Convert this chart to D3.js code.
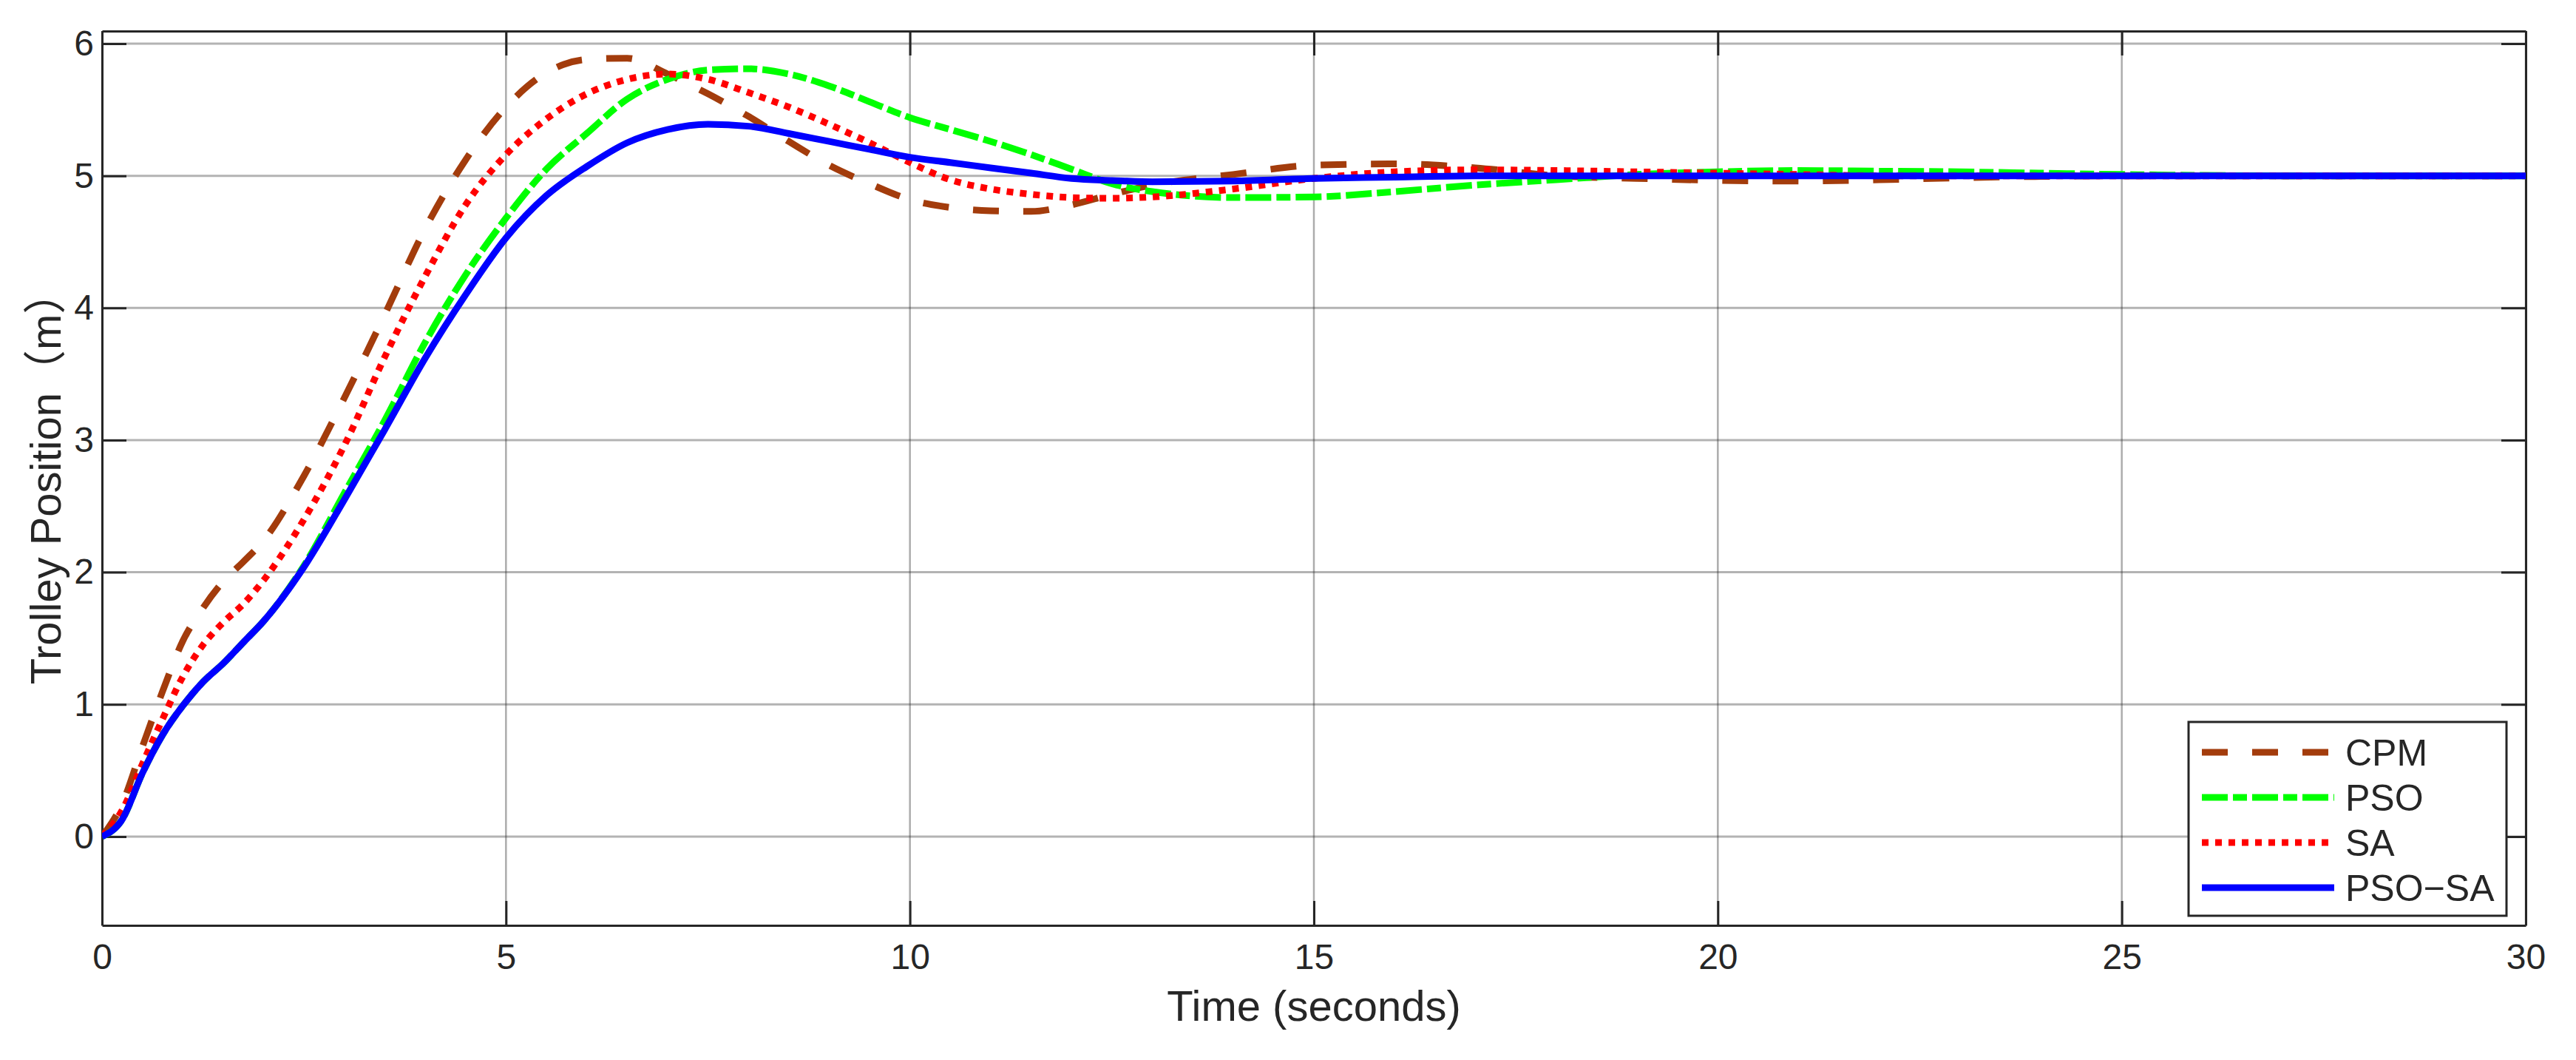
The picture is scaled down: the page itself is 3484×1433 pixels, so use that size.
<!DOCTYPE html>
<html>
<head>
<meta charset="utf-8">
<script src="https://cdn.jsdelivr.net/npm/d3@7"></script>
<style>
  body { margin: 0; background: #fff; }
  text { font-family: "Liberation Sans", Arial, "Noto Sans CJK SC", sans-serif; fill: #262626; }
</style>
</head>
<body>
<svg width="3484" height="1433"></svg>
<script>
// time samples (seconds)
let times = [0, 0.25, 0.5, 0.75, 1, 1.25, 1.5, 1.75, 2, 2.5, 3, 3.5, 4, 4.5, 5, 5.5, 6, 6.5, 7, 7.5,
    8, 8.5, 9, 9.5, 10, 10.5, 11, 11.5, 12, 12.5, 13, 14, 15, 16, 17, 18, 19, 20, 21, 22, 23, 24, 25, 27, 30];

let cpm = [0, 0.25, 0.68, 1.1, 1.48, 1.73, 1.93, 2.08, 2.24, 2.73, 3.32, 3.95, 4.6, 5.12, 5.52, 5.78, 5.88, 5.89, 5.77, 5.62,
    5.45, 5.26, 5.08, 4.94, 4.82, 4.76, 4.735, 4.73, 4.78, 4.86, 4.93, 5.01, 5.08, 5.09, 5.06, 5.0, 4.98, 4.965, 4.96, 4.97, 4.985, 4.995, 5.0, 5.0, 5.0];

let pso = [0, 0.13, 0.48, 0.77, 0.99, 1.17, 1.31, 1.47, 1.63, 2.05, 2.6, 3.15, 3.74, 4.25, 4.68, 5.05, 5.32, 5.58, 5.73, 5.8,
    5.81, 5.77, 5.68, 5.56, 5.44, 5.35, 5.26, 5.16, 5.05, 4.94, 4.88, 4.835, 4.84, 4.88, 4.93, 4.97, 5.01, 5.03, 5.04, 5.035, 5.03, 5.02, 5.01, 5.0, 5.0];

let sa = [0, 0.2, 0.55, 0.89, 1.21, 1.45, 1.62, 1.76, 1.94, 2.4, 2.96, 3.63, 4.24, 4.78, 5.16, 5.43, 5.62, 5.73, 5.77, 5.73,
    5.63, 5.52, 5.39, 5.25, 5.1, 4.97, 4.9, 4.86, 4.835, 4.83, 4.84, 4.9, 4.98, 5.03, 5.045, 5.04, 5.03, 5.02, 5.01, 5.0, 5.0, 5.0, 5.0, 5.0, 5.0];

let psoSa = [0, 0.13, 0.48, 0.77, 0.99, 1.17, 1.31, 1.47, 1.63, 2.04, 2.55, 3.08, 3.62, 4.1, 4.53, 4.85, 5.07, 5.25, 5.35, 5.39,
    5.375, 5.32, 5.26, 5.2, 5.14, 5.1, 5.06, 5.02, 4.98, 4.965, 4.955, 4.96, 4.98, 4.99, 5.0, 5.0, 5.0, 5.0, 5.0, 5.0, 5.0, 5.0, 5.0, 5.0, 5.0];

let seriesNames = ["CPM", "PSO", "SA", "PSO\u2212SA"];
let xTicks = [0, 5, 10, 15, 20, 25, 30];
let yTicks = [0, 1, 2, 3, 4, 5, 6];

let styles = [
    { color: "#a33c0c", dash: "35,33" },
    { color: "#00ff00", dash: "35,7,19,7" },
    { color: "#ff0000", dash: "9,9" },
    { color: "#0000ff", dash: null }
];

let svg = d3.select("svg"),
    margin = { top: 42, right: 68, bottom: 182, left: 138 },
    width = 3484 - margin.left - margin.right,
    height = 1433 - margin.top - margin.bottom,
    tickLen = 33;

let x = d3.scaleLinear().domain([0, 30]).range([0, width]);
let y = d3.scaleLinear().domain([-0.672, 6.095]).range([height, 0]);

let g = svg.append("g")
    .attr("transform", "translate(" + [margin.left, margin.top] + ")");

svg.append("defs").append("clipPath")
    .attr("id", "clip")
    .append("rect")
    .attr("width", width)
    .attr("height", height);

// grid
g.append("g").selectAll("line")
    .data(xTicks)
    .enter().append("line")
    .attr("x1", d => x(d)).attr("x2", d => x(d))
    .attr("y1", 0).attr("y2", height)
    .attr("stroke", "#262626").attr("stroke-opacity", 0.38).attr("stroke-width", 2.5);

g.append("g").selectAll("line")
    .data(yTicks)
    .enter().append("line")
    .attr("x1", 0).attr("x2", width)
    .attr("y1", d => y(d)).attr("y2", d => y(d))
    .attr("stroke", "#262626").attr("stroke-opacity", 0.35).attr("stroke-width", 3);

// axes (box with inward ticks on all sides)
let fmt = d3.format("d");
let axisBottom = d3.axisBottom(x).tickValues(xTicks).tickFormat(fmt).tickSizeInner(-tickLen).tickSizeOuter(0).tickPadding(25);
let axisTop = d3.axisTop(x).tickValues(xTicks).tickSizeInner(-tickLen).tickSizeOuter(0).tickFormat("");
let axisLeft = d3.axisLeft(y).tickValues(yTicks).tickFormat(fmt).tickSizeInner(-tickLen).tickSizeOuter(0).tickPadding(11);
let axisRight = d3.axisRight(y).tickValues(yTicks).tickSizeInner(-tickLen).tickSizeOuter(0).tickFormat("");

function styleAxis(sel) {
    sel.selectAll("path").attr("stroke", "#262626").attr("stroke-width", 3);
    sel.selectAll("line").attr("stroke", "#262626").attr("stroke-width", 3);
    sel.selectAll("text")
        .style("font-size", "48px")
        .style("font-family", "'Liberation Sans', Arial, sans-serif")
        .attr("fill", "#262626");
}

g.append("g").attr("transform", "translate(0," + height + ")").call(axisBottom).call(styleAxis);
g.append("g").call(axisTop).call(styleAxis);
g.append("g").call(axisLeft).call(styleAxis);
g.append("g").attr("transform", "translate(" + width + ",0)").call(axisRight).call(styleAxis);

// lines
let allSeries = [cpm, pso, sa, psoSa];
let line = d3.line()
    .x(d => x(d[0]))
    .y(d => y(d[1]))
    .curve(d3.curveMonotoneX);

allSeries.forEach((vals, i) => {
    let pts = times.map((t, k) => [t, vals[k]]);
    g.append("path")
        .datum(pts)
        .attr("clip-path", "url(#clip)")
        .attr("fill", "none")
        .attr("stroke", styles[i].color)
        .attr("stroke-width", 9)
        .attr("stroke-dasharray", styles[i].dash)
        .attr("d", line);
});

// axis labels
g.append("text")
    .attr("x", width / 2)
    .attr("y", 1380 - margin.top)
    .attr("text-anchor", "middle")
    .style("font-size", "58px")
    .attr("fill", "#000")
    .text("Time (seconds)");

svg.append("text")
    .attr("transform", "translate(82,646) rotate(-90)")
    .attr("text-anchor", "middle")
    .style("font-size", "58px")
    .attr("fill", "#000")
    .text("Trolley Position\uFF08m\uFF09");

// legend
let lg = svg.append("g").attr("transform", "translate(2960,976)");
lg.append("rect")
    .attr("width", 430)
    .attr("height", 262)
    .attr("fill", "#fff")
    .attr("stroke", "#262626")
    .attr("stroke-width", 3);

let items = lg.selectAll(".item")
    .data(seriesNames)
    .enter().append("g")
    .attr("class", "item")
    .attr("transform", (d, i) => "translate(0," + (41 + i * 61) + ")");

items.append("line")
    .attr("x1", 18).attr("x2", 197)
    .attr("stroke", (d, i) => styles[i].color)
    .attr("stroke-width", 9)
    .attr("stroke-dasharray", (d, i) => styles[i].dash);

items.append("text")
    .attr("x", 212)
    .attr("y", 18)
    .style("font-size", "50px")
    .attr("fill", "#000")
    .text(d => d);
</script>
</body>
</html>
